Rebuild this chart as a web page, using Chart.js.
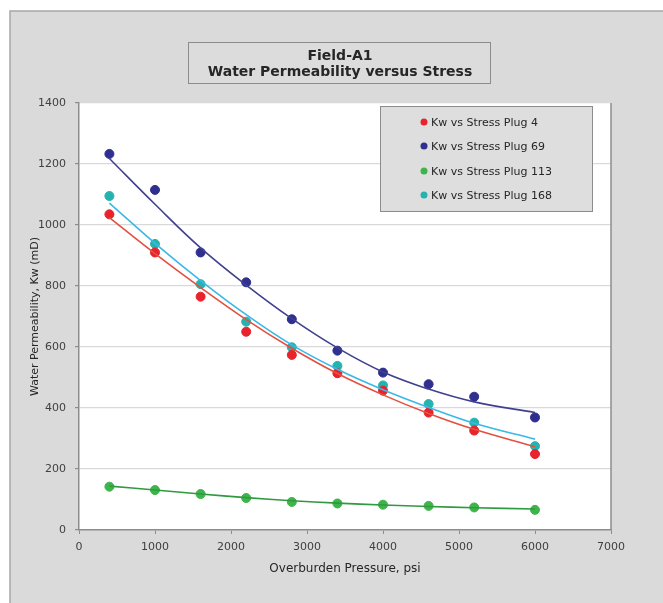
<!DOCTYPE html>
<html>
<head>
<meta charset="utf-8">
<script src="https://cdn.jsdelivr.net/npm/chart.js@4.4.1/dist/chart.umd.min.js"></script>
<style>
  html, body { margin: 0; padding: 0; background: #fff; }
  #wrap { width: 663px; height: 603px; position: relative; }
</style>
</head>
<body>
<div id="wrap"><canvas id="permChart" width="663" height="603"></canvas></div>
<script>
// stress levels (psi)
const pressure = [400, 1000, 1600, 2200, 2800, 3400, 4000, 4600, 5200, 6000];

// measured Kw (mD) per plug
const plug4   = [1035, 910, 765, 650, 574, 514, 457, 385, 326, 249];
const plug69  = [1233, 1115, 910, 812, 691, 588, 516, 478, 437, 369];
const plug113 = [142, 131, 118, 105, 92, 87, 83, 79, 74, 66];
const plug168 = [1095, 938, 806, 683, 599, 538, 474, 413, 352, 275];

// trend curves at the same pressures
const trend4   = [1024, 906, 795, 690, 596, 513, 443, 382, 330, 273];
const trend69  = [1218, 1068, 925, 803, 693, 597, 518, 462, 420, 385];
const trend113 = [144, 131, 118, 106, 96, 88, 82, 77, 73, 69];
const trend168 = [1072, 940, 818, 706, 607, 527, 460, 402, 350, 298];

const seriesNames = ['Kw vs Stress Plug 4', 'Kw vs Stress Plug 69', 'Kw vs Stress Plug 113', 'Kw vs Stress Plug 168'];
const xTicks = [0, 1000, 2000, 3000, 4000, 5000, 6000, 7000];
const yTicks = [0, 200, 400, 600, 800, 1000, 1200, 1400];

const pointColors = ['#e8232b', '#2f2f8f', '#3db54a', '#25b3b0'];
const lineColors  = ['#e4503f', '#40408f', '#2f9a3f', '#3bb8e6'];

const toXY = (ys) => ys.map((y, i) => ({ x: pressure[i], y: y }));

const measured = [plug4, plug69, plug113, plug168];
const trends = [trend4, trend69, trend113, trend168];

const datasets = [];
trends.forEach((t, i) => {
    datasets.push({
        label: 'trend ' + i,
        data: toXY(t),
        showLine: true,
        borderColor: lineColors[i],
        borderWidth: 1.6,
        pointRadius: 0,
        tension: 0.4,
        fill: false,
        isTrend: true
    });
});
measured.forEach((m, i) => {
    datasets.push({
        label: seriesNames[i],
        data: toXY(m),
        showLine: false,
        pointRadius: 4.5,
        pointBackgroundColor: pointColors[i],
        pointBorderColor: pointColors[i],
        borderColor: pointColors[i]
    });
});

// frame, white plot area, title box and legend box
const decor = {
    id: 'decor',
    beforeDraw(chart) {
        const c = chart.ctx;
        const a = chart.chartArea;
        c.save();
        c.fillStyle = '#dadada';
        c.fillRect(10, 11, 700, 650);
        c.strokeStyle = '#a6a6a6';
        c.lineWidth = 1.5;
        c.strokeRect(10, 11, 700, 650);
        c.fillStyle = '#ffffff';
        c.fillRect(a.left, a.top, a.right - a.left, a.bottom - a.top);
        c.restore();
    },
    afterDraw(chart) {
        const c = chart.ctx;
        const a = chart.chartArea;
        c.save();
        // plot area right border
        c.strokeStyle = '#8c8c8c';
        c.lineWidth = 1.5;
        c.beginPath();
        c.moveTo(a.right, a.top);
        c.lineTo(a.right, a.bottom);
        c.stroke();

        // title box
        c.fillStyle = '#dcdcdc';
        c.fillRect(188, 42, 302, 41);
        c.strokeStyle = '#8c8c8c';
        c.lineWidth = 1;
        c.strokeRect(188.5, 42.5, 302, 41);
        c.fillStyle = '#262626';
        c.font = 'bold 14px "DejaVu Sans", sans-serif';
        c.textAlign = 'center';
        c.textBaseline = 'middle';
        c.fillText('Field-A1', 340, 56);
        c.fillText('Water Permeability versus Stress', 340, 72);

        // legend box
        c.fillStyle = '#dedede';
        c.fillRect(380, 106, 212, 105);
        c.strokeStyle = '#8c8c8c';
        c.strokeRect(380.5, 106.5, 212, 105);
        c.font = '11px "DejaVu Sans", sans-serif';
        c.textAlign = 'left';
        const rows = [122, 146, 171, 195];
        chart.data.datasets.filter(d => !d.isTrend).forEach((d, i) => {
            c.fillStyle = d.pointBackgroundColor;
            c.beginPath();
            c.arc(424, rows[i], 3.5, 0, Math.PI * 2);
            c.fill();
            c.fillStyle = '#262626';
            c.fillText(d.label, 431, rows[i] + 1);
        });
        c.restore();
    }
};

const tickFont = { family: '"DejaVu Sans"', size: 11 };

const ctx = document.getElementById('permChart').getContext('2d');
const chart = new Chart(ctx, {
    type: 'scatter',
    data: { datasets: datasets },
    plugins: [decor],
    options: {
        responsive: false,
        animation: false,
        layout: { padding: { left: 0, top: 103, right: 52, bottom: 0 } },
        plugins: {
            legend: { display: false },
            tooltip: { enabled: false }
        },
        scales: {
            x: {
                type: 'linear',
                min: 0,
                max: 7000,
                afterBuildTicks: (s) => { s.ticks = xTicks.map(v => ({ value: v })); },
                afterFit: (s) => { s.height = 73; },
                grid: { drawOnChartArea: false, drawTicks: true, tickLength: 4, tickColor: '#8c8c8c' },
                border: { color: '#8c8c8c', width: 1.5 },
                ticks: { color: '#404040', padding: 7, font: tickFont, callback: (v) => String(v) },
                title: {
                    display: true,
                    text: 'Overburden Pressure, psi',
                    color: '#262626',
                    font: { family: '"DejaVu Sans"', size: 12 },
                    padding: { top: 0, bottom: 27 }
                }
            },
            y: {
                type: 'linear',
                min: 0,
                max: 1400,
                afterBuildTicks: (s) => { s.ticks = yTicks.map(v => ({ value: v })); },
                afterFit: (s) => { s.width = 79; },
                grid: { color: '#d9d9d9', lineWidth: 1.2, drawTicks: true, tickLength: 4, tickColor: '#8c8c8c' },
                border: { color: '#8c8c8c', width: 1.5 },
                ticks: { color: '#404040', padding: 9, font: tickFont, callback: (v) => String(v) },
                title: {
                    display: true,
                    text: 'Water Permeability, Kw (mD)',
                    color: '#262626',
                    font: { family: '"DejaVu Sans"', size: 11 },
                    padding: { top: 29, bottom: 0 }
                }
            }
        }
    }
});
</script>
</body>
</html>
